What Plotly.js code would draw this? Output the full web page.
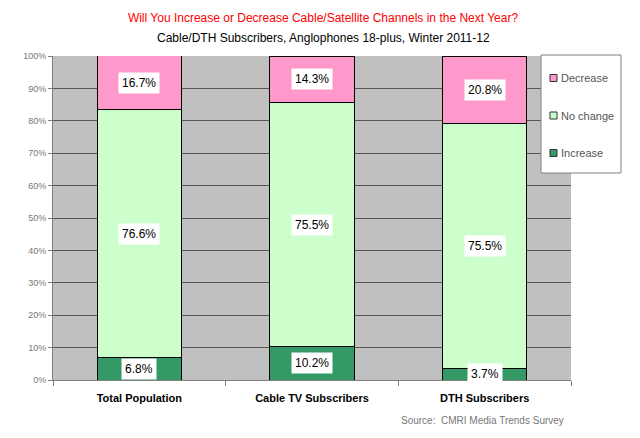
<!DOCTYPE html>
<html>
<head>
<meta charset="utf-8">
<script src="https://cdn.plot.ly/plotly-3.0.1.min.js"></script>
<style>body{margin:0;background:#fff}#chart{width:640px;height:438px}</style>
</head>
<body>
<div id="chart"></div>
<script>
var categories = ["Total Population", "Cable TV Subscribers", "DTH Subscribers"];
var increase = [6.8, 10.2, 3.7];
var noChange = [76.6, 75.5, 75.5];
var decrease = [16.7, 14.3, 20.8];

var seriesNames = ["Increase", "No change", "Decrease"];
var seriesValues = [increase, noChange, decrease];
var seriesColors = ["#339966", "#CCFFCC", "#FF99CC"];

var data = seriesValues.map(function (vals, i) {
    return {
        type: 'bar',
        name: seriesNames[i],
        x: categories,
        y: vals,
        marker: { color: seriesColors[i], line: { color: '#000', width: 1 } },
        hoverinfo: 'y+name'
    };
});

// pixel -> paper helpers (plot area 53..571 x, 56..380 y)
function px(x) { return (x - 53) / 518; }
function py(y) { return (380 - y) / 324; }

// white label boxes at the middle of each segment
var annotations = [];
categories.forEach(function (cat, c) {
    var base = 0;
    seriesValues.forEach(function (vals) {
        annotations.push({
            x: cat, y: base + vals[c] / 2, xref: 'x', yref: 'y',
            text: vals[c].toFixed(1) + '%', showarrow: false,
            bgcolor: '#fff', borderpad: 3,
            font: { family: 'Liberation Sans, Arial', size: 12, color: '#000' }
        });
        base += vals[c];
    });
});

annotations.push({
    x: px(323), y: py(38), xref: 'paper', yref: 'paper', yanchor: 'middle',
    text: 'Cable/DTH Subscribers, Anglophones 18-plus, Winter 2011-12', showarrow: false,
    font: { family: 'Liberation Sans, Arial', size: 12, color: '#000' }
});
annotations.push({
    x: px(566), y: py(421), xref: 'paper', yref: 'paper', xanchor: 'right', yanchor: 'middle',
    text: 'Source:  CMRI Media Trends Survey', showarrow: false,
    font: { family: 'Liberation Sans, Arial', size: 10, color: '#777' }
});

// legend box drawn by hand (Excel style: small swatches, tight text)
var shapes = [{
    type: 'rect', xref: 'paper', yref: 'paper',
    x0: px(541), x1: px(621), y0: py(173), y1: py(55),
    fillcolor: '#fff', line: { color: '#808080', width: 1 }
}];
[2, 1, 0].forEach(function (s, k) {
    var cy = 78 + k * 37.5;
    shapes.push({
        type: 'rect', xref: 'paper', yref: 'paper',
        x0: px(550), x1: px(557), y0: py(cy + 3.5), y1: py(cy - 3.5),
        fillcolor: seriesColors[s], line: { color: '#333', width: 1 }
    });
    annotations.push({
        x: px(559), y: py(cy), xref: 'paper', yref: 'paper',
        xanchor: 'left', yanchor: 'middle', showarrow: false,
        text: seriesNames[s],
        font: { family: 'Liberation Sans, Arial', size: 11, color: '#555' }
    });
});

var layout = {
    width: 640, height: 438,
    margin: { l: 53, r: 69, t: 56, b: 58, autoexpand: false },
    barmode: 'stack',
    bargap: 0.51,
    paper_bgcolor: '#fff',
    plot_bgcolor: '#C0C0C0',
    showlegend: false,
    title: {
        text: 'Will You Increase or Decrease Cable/Satellite Channels in the Next Year?',
        font: { family: 'Liberation Sans, Arial', size: 12, color: '#ff0000' },
        xref: 'container', x: 323 / 640, xanchor: 'center', y: 1 - 18 / 438, yanchor: 'middle'
    },
    xaxis: {
        tickfont: { family: 'Liberation Sans, Arial', size: 11, color: '#000', weight: 'bold' },
        showline: true, linecolor: '#808080', fixedrange: true,
        ticks: 'outside', tickson: 'boundaries', ticklen: 5, tickcolor: '#808080',
        ticklabelstandoff: 8
    },
    yaxis: {
        range: [0, 100], dtick: 10, ticksuffix: '%',
        tickfont: { family: 'Liberation Sans, Arial', size: 9, color: '#777' },
        gridcolor: '#555', gridwidth: 1, zeroline: false,
        showline: true, linecolor: '#808080', ticks: 'outside', ticklen: 4, tickcolor: '#808080'
    },
    shapes: shapes,
    annotations: annotations
};

Plotly.newPlot('chart', data, layout, { displayModeBar: false });
</script>
</body>
</html>
